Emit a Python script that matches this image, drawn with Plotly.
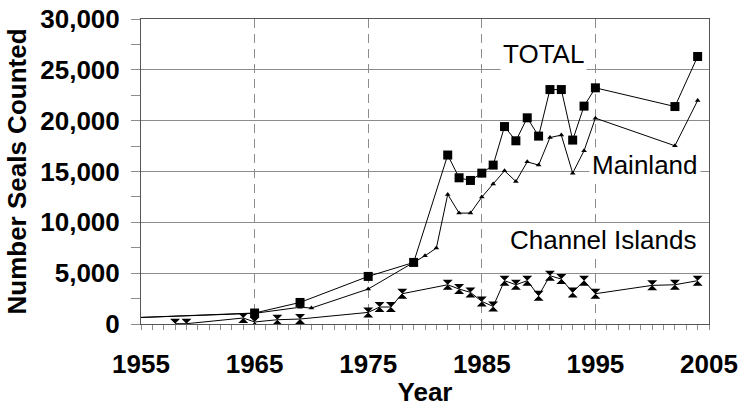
import plotly.graph_objects as go

# Data
total_years = [1950, 1965, 1969, 1975, 1979, 1982, 1983, 1984, 1985, 1986, 1987, 1988,
               1989, 1990, 1991, 1992, 1993, 1994, 1995, 2002, 2004]
total_vals = [435, 1080, 2120, 4680, 6055, 16620, 14380, 14120, 14840, 15630, 19420, 18020,
              20280, 18480, 23060, 23060, 18090, 21430, 23230, 21390, 26310]

main_years = [1950, 1965, 1969, 1970, 1975, 1979, 1980, 1981, 1982, 1983, 1984, 1985,
              1986, 1987, 1988, 1989, 1990, 1991, 1992, 1993, 1994, 1995, 2002, 2004]
main_vals = [435, 1050, 1650, 1570, 3440, 6000, 6710, 7470, 12750, 10910, 10910, 12480,
             13760, 15070, 14020, 15950, 15630, 18340, 18580, 14840, 17040, 20250, 17530, 21980]

ci_years = [1958, 1959, 1964, 1965, 1967, 1969, 1975, 1976, 1977, 1978, 1982, 1983, 1984,
            1985, 1986, 1987, 1988, 1989, 1990, 1991, 1992, 1993, 1994, 1995, 2000, 2002, 2004]
ci_vals = [30, 30, 590, 200, 420, 490, 1140, 1670, 1670, 2980, 3860, 3440, 3110,
           2220, 1730, 4260, 3860, 4260, 2780, 4750, 4420, 3110, 4260, 2980, 3800, 3860, 4260]

x_ticks = [1955, 1965, 1975, 1985, 1995, 2005]
y_ticks = [0, 5000, 10000, 15000, 20000, 25000, 30000]

FONT = "Liberation Sans, Arial, sans-serif"

fig = go.Figure()
fig.add_trace(go.Scatter(x=total_years, y=total_vals, mode="lines+markers", name="TOTAL",
                         line=dict(color="black", width=1),
                         marker=dict(symbol="square", size=9, color="black")))
fig.add_trace(go.Scatter(x=main_years, y=main_vals, mode="lines+markers", name="Mainland",
                         line=dict(color="black", width=1),
                         marker=dict(symbol="triangle-up", size=5, color="black")))
fig.add_trace(go.Scatter(x=ci_years, y=ci_vals, mode="lines+markers", name="Channel Islands",
                         line=dict(color="black", width=1),
                         marker=dict(symbol="hourglass", size=10, color="black")))

ann_font = dict(family=FONT, size=26, color="black")
fig.add_annotation(x=1990.4, y=26510, text="TOTAL", showarrow=False, font=ann_font,
                   bgcolor="white", borderpad=2)
fig.add_annotation(x=1999.4, y=15600, text="Mainland", showarrow=False, font=ann_font,
                   bgcolor="white", borderpad=2)
fig.add_annotation(x=1995.7, y=8230, text="Channel Islands", showarrow=False, font=ann_font,
                   bgcolor="white", borderpad=1)

fig.update_layout(
    width=746, height=408,
    margin=dict(l=141, r=37, t=19, b=84, autoexpand=False),
    paper_bgcolor="white", plot_bgcolor="white",
    showlegend=False,
    font=dict(family=FONT, color="black"),
    xaxis=dict(
        range=[1955, 2005], tickvals=x_ticks, ticktext=[str(v) for v in x_ticks],
        automargin=False,
        showgrid=True, gridcolor="#8c8c8c", gridwidth=1, griddash="9px,6px",
        showline=True, linecolor="#555555", linewidth=1, mirror=True,
        ticks="outside", ticklen=5, tickcolor="#8c8c8c", ticklabelstandoff=12,
        minor=dict(dtick=1, tick0=1955, ticks="outside", ticklen=5, tickcolor="#8c8c8c", showgrid=False),
        tickfont=dict(family=FONT, size=26, weight="bold", color="black"),
        title=dict(text="Year", font=dict(family=FONT, size=26, weight="bold", color="black"), standoff=4),
        zeroline=False,
    ),
    yaxis=dict(
        range=[0, 30000], tickvals=y_ticks, ticktext=[f"{v:,}" for v in y_ticks],
        automargin=False,
        showgrid=True, gridcolor="#8c8c8c", gridwidth=1,
        showline=True, linecolor="#555555", linewidth=1, mirror=True,
        ticks="outside", ticklen=9, tickcolor="#8c8c8c", ticklabelstandoff=6,
        minor=dict(dtick=2500, tick0=0, ticks="outside", ticklen=9, tickcolor="#8c8c8c", showgrid=False),
        tickfont=dict(family=FONT, size=26, weight="bold", color="black"),
        title=dict(text="Number Seals Counted", font=dict(family=FONT, size=26, weight="bold", color="black"), standoff=6),
        zeroline=False,
    ),
)

fig.write_html("out.html", config={"displayModeBar": False},
               post_script="document.body.style.margin='0';document.body.style.padding='0';")
